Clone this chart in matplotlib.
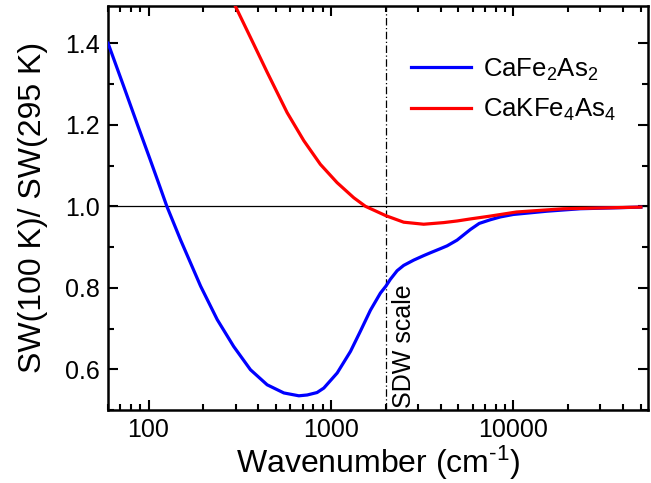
import matplotlib
matplotlib.use("Agg")
import matplotlib.pyplot as plt
from matplotlib.ticker import FixedLocator, LogLocator, NullFormatter, MultipleLocator, FuncFormatter

plt.rcParams['font.family'] = ['Liberation Sans', 'DejaVu Sans']
plt.rcParams['mathtext.default'] = 'regular'

# CaFe2As2 (blue)
blue_x = [60, 73, 87, 102, 115, 126, 150, 193, 238, 293, 362, 447, 552, 667, 741, 839,
          914, 1082, 1280, 1452, 1646, 1867, 2000, 2118, 2306, 2505, 2844, 3224, 3510,
          3980, 4335, 4914, 5810, 6500, 7480, 8500, 10000, 15300, 23300, 50000]
blue_y = [1.40, 1.295, 1.200, 1.115, 1.05, 1.0, 0.917, 0.804, 0.722, 0.656, 0.599,
          0.562, 0.542, 0.535, 0.537, 0.543, 0.554, 0.591, 0.644, 0.694, 0.745, 0.787,
          0.804, 0.821, 0.842, 0.855, 0.868, 0.879, 0.886, 0.896, 0.903, 0.917, 0.943,
          0.958, 0.967, 0.974, 0.980, 0.988, 0.994, 0.998]

# CaKFe4As4 (red)
red_x = [300, 378, 447, 575, 710, 875, 1081, 1334, 1545, 2000, 2505, 3224, 4150,
         4918, 5810, 7480, 10400, 18800, 50000]
red_y = [1.49, 1.397, 1.329, 1.23, 1.161, 1.103, 1.058, 1.021, 1.0, 0.977, 0.961,
         0.956, 0.960, 0.964, 0.969, 0.976, 0.986, 0.994, 0.998]

series_labels = ['CaFe$_2$As$_2$', 'CaKFe$_4$As$_4$']
sdw_x = 2000
x_ticks = [100, 1000, 10000]
y_ticks = [0.6, 0.8, 1.0, 1.2, 1.4]

fig = plt.figure(figsize=(6.51, 4.83), dpi=100)
ax = fig.add_axes([0.166, 0.151, 0.830, 0.837])

ax.axhline(1.0, color='black', lw=0.9, zorder=1)
ax.axvline(sdw_x, color='black', lw=0.9, linestyle=(0, (6, 2, 1, 2)), zorder=1)
ax.plot(blue_x, blue_y, color='#0000ff', lw=2.3, label=series_labels[0], zorder=3,
        solid_joinstyle='round')
ax.plot(red_x, red_y, color='#ff0000', lw=2.3, label=series_labels[1], zorder=4,
        solid_joinstyle='round')

ax.set_xscale('log')
ax.set_xlim(60, 55000)
ax.set_ylim(0.5, 1.492)

ax.xaxis.set_major_locator(FixedLocator(x_ticks))
ax.xaxis.set_major_formatter(FuncFormatter(lambda v, p: f"{int(round(v))}"))
ax.xaxis.set_minor_locator(LogLocator(base=10, subs=range(2, 10), numticks=20))
ax.xaxis.set_minor_formatter(NullFormatter())
ax.yaxis.set_major_locator(FixedLocator(y_ticks))
ax.yaxis.set_major_formatter(FuncFormatter(lambda v, p: f"{v:.1f}"))
ax.yaxis.set_minor_locator(MultipleLocator(0.1))

ax.tick_params(which='both', direction='in', top=True, right=True, width=1.5)
ax.tick_params(which='major', length=7, labelsize=18, pad=6)
ax.tick_params(which='minor', length=4)
for s in ax.spines.values():
    s.set_linewidth(1.8)

ax.set_xlabel('Wavenumber (cm$^{\u2010 1}$)', fontsize=23, labelpad=1)
ax.set_ylabel('SW(100 K)/ SW(295 K)', fontsize=23, labelpad=12)

ax.text(2150, 0.505, 'SDW scale', rotation=90, fontsize=18, ha='left', va='bottom')

leg = ax.legend(loc='upper left', bbox_to_anchor=(0.56, 0.875), frameon=False,
                fontsize=18.5, handlelength=2.35, handletextpad=0.45, labelspacing=0.57,
                borderpad=0, borderaxespad=0)

fig.savefig('out.png', dpi=100)
